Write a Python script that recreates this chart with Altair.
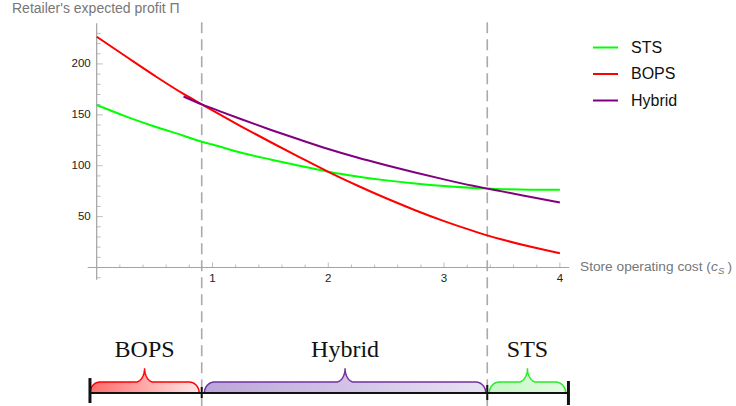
import altair as alt
import pandas as pd
import numpy as np

# ---------------- data ----------------
series_names = ["STS", "BOPS", "Hybrid"]
series_colors = ["#00ff00", "#ff0000", "#800080"]

x_main = [0, 0.25, 0.5, 0.75, 0.907, 1, 1.25, 1.5, 1.75, 2, 2.25, 2.5, 2.75, 3, 3.25, 3.373, 3.5, 3.75, 4]
sts_vals = [159.6, 148.5, 138.5, 129.5, 123.6, 120.8, 112.8, 106.2, 100.0, 94.1, 89.4, 85.6, 82.5, 80.0, 78.2, 77.5, 77.0, 76.5, 76.4]
bops_vals = [226.7, 207.5, 188.5, 170.5, 160.3, 154.3, 138.5, 123.3, 108.5, 94.0, 80.6, 68.0, 56.3, 45.6, 36.0, 31.6, 27.5, 20.3, 14.0]
x_hybrid = [0.75, 0.907, 1, 1.25, 1.5, 1.75, 2, 2.25, 2.5, 2.75, 3, 3.25, 3.373, 3.5, 3.75, 4]
hybrid_vals = [168.0, 160.3, 156.3, 145.6, 135.4, 125.7, 116.4, 108.0, 100.5, 93.4, 86.6, 80.3, 77.5, 74.8, 69.3, 63.8]

thresholds = [0.907, 3.373]          # dashed vertical lines (switching costs)
x_major = [1, 2, 3, 4]
y_major = [50, 100, 150, 200]
x_minor = [round(0.2 * i, 1) for i in range(1, 21) if i % 5 != 0]
y_minor = [v for v in range(-10, 240, 10) if v % 50 != 0]

regions = ["BOPS", "Hybrid", "STS"]
region_left = [-0.058, 0.93, 3.39]
region_right = [0.885, 3.36, 4.05]
bar_ends = [-0.058, 4.074]

# ---------------- layout constants (pixels -> data units) ----------------
X_DOMAIN = [-0.835, 5.521]
Y_DOMAIN = [-136.05, 262.8]
PX_X = 115.8    # pixels per x unit
PX_Y = 1.018    # pixels per y unit

xs = alt.Scale(domain=X_DOMAIN, nice=False, zero=False)
ys = alt.Scale(domain=Y_DOMAIN, nice=False, zero=False)


def X(f):
    return alt.X(f, type="quantitative", scale=xs, axis=None)


def Y(f):
    return alt.Y(f, type="quantitative", scale=ys, axis=None)


AXIS_GRAY = "#a3a3a3"
LABEL_COL = "#222222"
TITLE_COL = "#777777"
SANS = "Liberation Sans"

# ---------------- curves ----------------
rows = []
for xv, v in zip(x_main, sts_vals):
    rows.append({"x": xv, "y": v, "series": "STS"})
for xv, v in zip(x_main, bops_vals):
    rows.append({"x": xv, "y": v, "series": "BOPS"})
for xv, v in zip(x_hybrid, hybrid_vals):
    rows.append({"x": xv, "y": v, "series": "Hybrid"})
curves = pd.DataFrame(rows)

lines = alt.Chart(curves).mark_line(strokeWidth=2, interpolate="monotone").encode(
    x=X("x"), y=Y("y"),
    color=alt.Color("series:N",
                    scale=alt.Scale(domain=series_names, range=series_colors),
                    sort=series_names,
                    legend=alt.Legend(orient="none", legendX=592, legendY=34, title=None,
                                      symbolType="stroke", symbolSize=625, symbolStrokeWidth=2,
                                      labelFontSize=16, labelFont=SANS, labelColor="#111111",
                                      labelOffset=12, rowPadding=4.5, padding=0)),
)

# ---------------- hand-built Mathematica-style axes ----------------
y_axis_span = pd.DataFrame({"x": [0], "y": [-12], "y2": [240]})
x_axis_span = pd.DataFrame({"x": [-0.078], "x2": [4.08], "y": [0]})
y_axis = alt.Chart(y_axis_span).mark_rule(color=AXIS_GRAY, strokeWidth=1.2).encode(
    x=X("x"), y=Y("y"), y2="y2")
x_axis = alt.Chart(x_axis_span).mark_rule(color=AXIS_GRAY, strokeWidth=1.2).encode(
    x=X("x"), x2="x2", y=Y("y"))

xmin_df = pd.DataFrame({"x": x_minor, "y": 0})
xmaj_df = pd.DataFrame({"x": x_major, "y": 0})
ymin_df = pd.DataFrame({"x": 0, "y": y_minor})
ymaj_df = pd.DataFrame({"x": 0, "y": y_major})

xt_minor = alt.Chart(xmin_df).mark_tick(orient="vertical", size=3, thickness=1, yOffset=-1.5,
                                        color=AXIS_GRAY).encode(x=X("x"), y=Y("y"))
xt_major = alt.Chart(xmaj_df).mark_tick(orient="vertical", size=5, thickness=1, yOffset=-2.5,
                                        color=AXIS_GRAY).encode(x=X("x"), y=Y("y"))
yt_minor = alt.Chart(ymin_df).mark_tick(orient="horizontal", size=4, thickness=1, xOffset=2,
                                        color=AXIS_GRAY).encode(x=X("x"), y=Y("y"))
yt_major = alt.Chart(ymaj_df).mark_tick(orient="horizontal", size=6, thickness=1, xOffset=3,
                                        color=AXIS_GRAY).encode(x=X("x"), y=Y("y"))

xlab = alt.Chart(xmaj_df).mark_text(dy=11, fontSize=11.5, font=SANS, color=LABEL_COL,
                                    align="center", baseline="middle").encode(
    x=X("x"), y=Y("y"), text=alt.Text("x:Q", format="d"))
ylab = alt.Chart(ymaj_df).mark_text(dx=-6, fontSize=11.5, font=SANS, color=LABEL_COL,
                                    align="right", baseline="middle").encode(
    x=X("x"), y=Y("y"), text=alt.Text("y:Q", format="d"))

title_df = pd.DataFrame({"t": ["Retailer's expected profit \u03a0"]})
y_title = alt.Chart(title_df).mark_text(fontSize=14, font=SANS, color=TITLE_COL,
                                        align="left", baseline="middle").encode(
    x=alt.value(12), y=alt.value(9), text="t:N")

xt_parts = pd.DataFrame({"t": ["Store operating cost ("]})
x_title = alt.Chart(xt_parts).mark_text(fontSize=13.7, font=SANS, color=TITLE_COL,
                                        align="left", baseline="middle").encode(
    x=alt.value(580), y=alt.value(267), text="t:N")
c_df = pd.DataFrame({"t": ["c"]})
x_title_c = alt.Chart(c_df).mark_text(fontSize=13.7, font=SANS, fontStyle="italic", color=TITLE_COL,
                                      align="left", baseline="middle").encode(
    x=alt.value(711), y=alt.value(267), text="t:N")
s_df = pd.DataFrame({"t": ["S"]})
x_title_s = alt.Chart(s_df).mark_text(fontSize=9.5, font=SANS, fontStyle="italic", color=TITLE_COL,
                                      align="left", baseline="middle").encode(
    x=alt.value(718), y=alt.value(271), text="t:N")
p_df = pd.DataFrame({"t": [")"]})
x_title_p = alt.Chart(p_df).mark_text(fontSize=13.7, font=SANS, color=TITLE_COL,
                                      align="left", baseline="middle").encode(
    x=alt.value(727.5), y=alt.value(267), text="t:N")

# ---------------- dashed thresholds ----------------
thr_df = pd.DataFrame({"x": thresholds, "y": 241, "y2": Y_DOMAIN[0]})
dashed = alt.Chart(thr_df).mark_rule(color="#aaaaaa", strokeWidth=1.6, strokeDash=[11, 6]).encode(
    x=X("x"), y=Y("y"), y2="y2")

# ---------------- braces at the bottom ----------------
BASE = -123.3      # baseline of the bracket bar
SHOULDER = -112.5  # flat part of the brace
CUSP = -99.0       # tip of the brace
R_CORNER = 10 / PX_X
R_CUSP = 9 / PX_X


def brace(a, b, n=24):
    m = (a + b) / 2
    t = np.linspace(0, np.pi / 2, n)
    lx = list(a + R_CORNER * (1 - np.cos(t)))
    ly = list(BASE + (SHOULDER - BASE) * np.sin(t))
    lx += list(m - R_CUSP + R_CUSP * np.sin(t))
    ly += list(SHOULDER + (CUSP - SHOULDER) * (1 - np.cos(t)))
    rx = [2 * m - v for v in reversed(lx)]
    ry = list(reversed(ly))
    return lx + rx, ly + ry


brace_styles = {
    "BOPS": ("#ff0000", "#ff6b6b", "#ffe6e6"),
    "Hybrid": ("#7030a0", "#bca5d9", "#e8e1f3"),
    "STS": ("#22ee22", "#c4f7c4", "#e3fbe3"),
}

brace_layers = []
for name, a, b in zip(regions, region_left, region_right):
    bx, by = brace(a, b)
    df = pd.DataFrame({"x": bx, "y": by, "y0": BASE, "i": range(len(bx))})
    stroke, c0, c1 = brace_styles[name]
    fill = alt.Chart(df).mark_area(
        color=alt.Gradient(gradient="linear",
                           stops=[alt.GradientStop(color=c0, offset=0),
                                  alt.GradientStop(color=c1, offset=1)],
                           x1=0, x2=1, y1=0, y2=0)
    ).encode(x=X("x"), y=Y("y"), y2="y0")
    edge = alt.Chart(df).mark_line(color=stroke, strokeWidth=1.5).encode(
        x=X("x"), y=Y("y"), order="i:Q")
    brace_layers += [fill, edge]

bar_df = pd.DataFrame({"x": [bar_ends[0]], "x2": [bar_ends[1]], "y": [BASE]})
bar = alt.Chart(bar_df).mark_rule(color="#111111", strokeWidth=2).encode(
    x=X("x"), x2="x2", y=Y("y"))

bt_df = pd.DataFrame({
    "x": [bar_ends[0], thresholds[0], thresholds[1], bar_ends[1]],
    "y": [-108.6, -117.4, -115.4, -111.5],
    "y2": [-133.1, -128.2, -130.2, -135.1],
    "w": [3, 2, 2, 3],
})
bar_ticks = alt.Chart(bt_df).mark_rule(color="#111111").encode(
    x=X("x"), y=Y("y"), y2="y2", strokeWidth=alt.StrokeWidth("w:Q", scale=None))

lab_df = pd.DataFrame({"x": [(a + b) / 2 for a, b in zip(region_left, region_right)],
                       "y": -81.0, "t": regions})
region_labels = alt.Chart(lab_df).mark_text(font="Liberation Serif", fontSize=24, color="#111111",
                                            align="center", baseline="middle").encode(
    x=X("x"), y=Y("y"), text="t:N")

chart = alt.layer(
    dashed,
    y_axis, x_axis, xt_minor, xt_major, yt_minor, yt_major, xlab, ylab,
    *brace_layers, bar, bar_ticks, region_labels,
    lines,
    y_title, x_title, x_title_c, x_title_s, x_title_p,
).properties(
    width=736, height=406,
    autosize=alt.AutoSizeParams(type="none"),
    padding=0,
    background="white",
).configure_view(stroke=None)

chart.save("out.html", embed_options={"renderer": "svg", "actions": False})
